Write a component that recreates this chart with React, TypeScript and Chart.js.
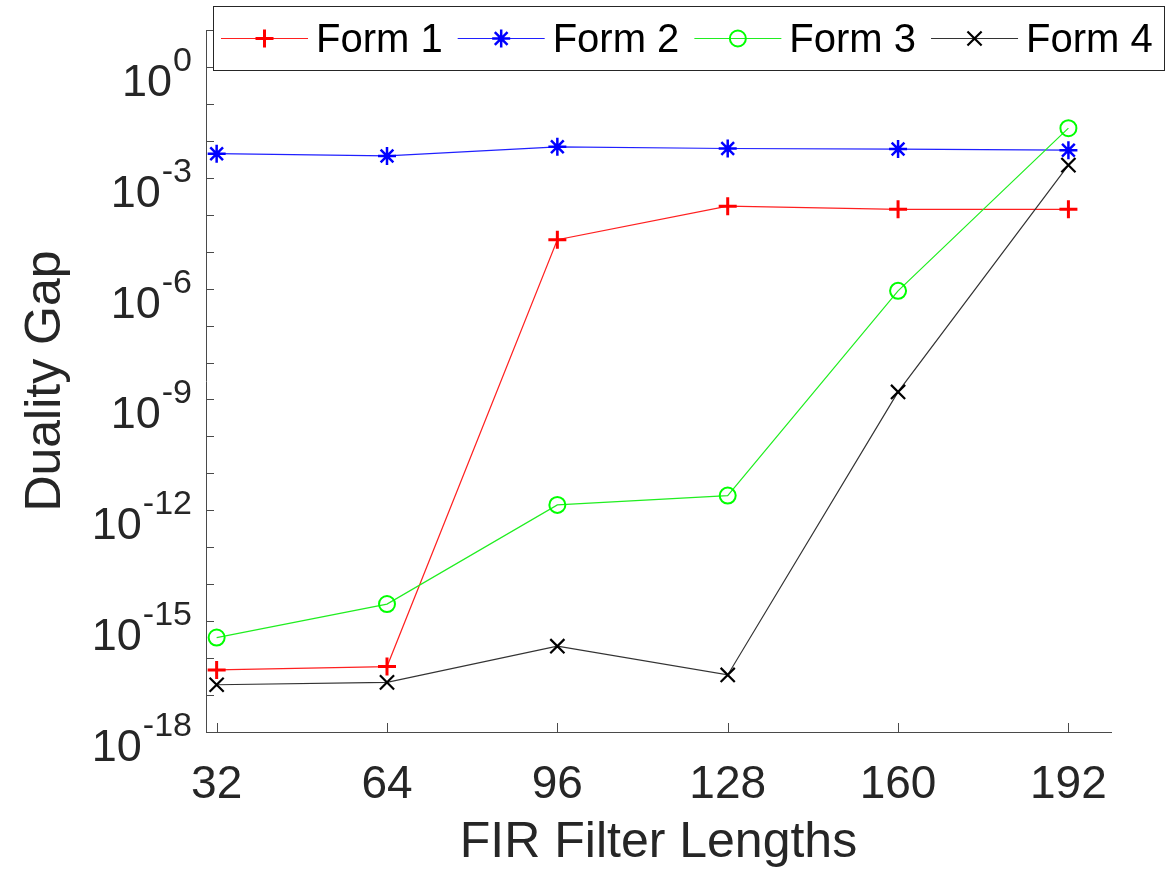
import React, { useEffect, useRef } from 'react';
import { Chart, registerables } from 'chart.js';

Chart.register(...registerables);

// ---------- data ----------
const filterLengths = [32, 64, 96, 128, 160, 192];
const form1 = [4.8e-17, 5.9e-17, 2.1e-5, 1.7e-4, 1.4e-4, 1.4e-4];
const form2 = [4.5e-3, 3.9e-3, 6.9e-3, 6.2e-3, 6.0e-3, 5.6e-3];
const form3 = [3.6e-16, 2.9e-15, 1.4e-12, 2.5e-12, 8.7e-7, 2.2e-2];
const form4 = [1.9e-17, 2.2e-17, 2.1e-16, 3.5e-17, 1.6e-9, 2.2e-3];
const seriesNames = ['Form 1', 'Form 2', 'Form 3', 'Form 4'];
const xTickValues = [32, 64, 96, 128, 160, 192];
const yLabelExponents = [0, -3, -6, -9, -12, -15, -18];
const yTickExponents = [1, 0, -1, -2, -3, -4, -5, -6, -7, -8, -9, -10, -11, -12, -13, -14, -15, -16, -17, -18];
const xTitle = 'FIR Filter Lengths';
const yTitle = 'Duality Gap';

// ---------- styles ----------
const FONT = '"Liberation Sans", Arial, Helvetica, sans-serif';
const TEXT = '#262626';
const AXIS = '#4a4a4a';
const seriesColors = ['#ff0000', '#0000ff', '#00ff00', '#000000'];
const lineColors = ['#ff2020', '#2020ff', '#20ee20', '#333333'];
const seriesPointStyles = ['cross', 'star', 'circle', 'crossRot'];
const seriesPointRadius = [9, 9, 8, 10];
const seriesPointWidth = [3, 2.5, 2, 2.2];

function drawMarker(ctx: CanvasRenderingContext2D, style: string, x: number, y: number, r: number, color: string, lw: number) {
  ctx.save();
  ctx.strokeStyle = color;
  ctx.lineWidth = lw;
  ctx.beginPath();
  const d = r * Math.SQRT1_2;
  if (style === 'cross' || style === 'star') {
    ctx.moveTo(x - r, y); ctx.lineTo(x + r, y);
    ctx.moveTo(x, y - r); ctx.lineTo(x, y + r);
  }
  if (style === 'crossRot' || style === 'star') {
    ctx.moveTo(x - d, y - d); ctx.lineTo(x + d, y + d);
    ctx.moveTo(x + d, y - d); ctx.lineTo(x - d, y + d);
  }
  if (style === 'circle') {
    ctx.arc(x, y, r, 0, Math.PI * 2);
  }
  ctx.stroke();
  ctx.restore();
}

const decorPlugin = {
  id: 'decor',
  afterDraw(chart: any) {
    const ctx: CanvasRenderingContext2D = chart.ctx;
    const xs = chart.scales.x;
    const ys = chart.scales.y;
    const area = chart.chartArea;

    // inward tick marks
    ctx.save();
    ctx.strokeStyle = AXIS;
    ctx.lineWidth = 1;
    ctx.beginPath();
    for (const e of yTickExponents) {
      const py = Math.round(ys.getPixelForValue(Math.pow(10, e))) + 0.5;
      ctx.moveTo(area.left, py);
      ctx.lineTo(area.left + 8, py);
    }
    for (const v of xTickValues) {
      const px = Math.round(xs.getPixelForValue(v)) + 0.5;
      ctx.moveTo(px, area.bottom);
      ctx.lineTo(px, area.bottom - 9);
    }
    ctx.stroke();
    ctx.restore();

    // y tick labels 10^e
    ctx.save();
    ctx.fillStyle = TEXT;
    ctx.textAlign = 'left';
    ctx.textBaseline = 'alphabetic';
    const right = area.left - 14;
    for (const e of yLabelExponents) {
      const py = ys.getPixelForValue(Math.pow(10, e));
      const expStr = e === 0 ? '0' : '-' + Math.abs(e);
      ctx.font = `34px ${FONT}`;
      const we = ctx.measureText(expStr).width;
      ctx.font = `45px ${FONT}`;
      const wb = ctx.measureText('10').width;
      ctx.fillText('10', right - we - wb - 1, py + 29);
      ctx.font = `34px ${FONT}`;
      ctx.fillText(expStr, right - we, py + 4);
    }
    ctx.restore();

    // legend
    ctx.save();
    const boxL = area.left + 7;
    const boxR = chart.width - 8;
    const boxT = 6;
    const boxB = 71;
    ctx.fillStyle = '#ffffff';
    ctx.fillRect(boxL, boxT, boxR - boxL, boxB - boxT);
    ctx.strokeStyle = '#262626';
    ctx.lineWidth = 1;
    ctx.strokeRect(boxL + 0.5, boxT + 0.5, boxR - boxL - 1, boxB - boxT - 1);
    ctx.font = `40px ${FONT}`;
    ctx.textBaseline = 'middle';
    ctx.textAlign = 'left';
    let x = boxL + 8;
    const ly = 38.5;
    chart.data.datasets.forEach((ds: any, i: number) => {
      ctx.strokeStyle = lineColors[i];
      ctx.lineWidth = 1.2;
      ctx.beginPath();
      ctx.moveTo(x, ly);
      ctx.lineTo(x + 87, ly);
      ctx.stroke();
      drawMarker(ctx, seriesPointStyles[i], x + 43.5, ly, seriesPointRadius[i], seriesColors[i], seriesPointWidth[i]);
      ctx.fillStyle = '#000000';
      ctx.fillText(ds.label, x + 95, 41);
      const tw = ctx.measureText(ds.label).width;
      x += 95 + tw + 15;
    });
    ctx.restore();
  },
};

export default function App() {
  const ref = useRef<HTMLCanvasElement | null>(null);

  useEffect(() => {
    if (!ref.current) return;
    const allSeries = [form1, form2, form3, form4];
    const datasets = allSeries.map((vals, i) => ({
      label: seriesNames[i],
      data: filterLengths.map((x, j) => ({ x, y: vals[j] })),
      borderColor: lineColors[i],
      borderWidth: 1.2,
      backgroundColor: 'rgba(0,0,0,0)',
      pointStyle: seriesPointStyles[i],
      pointRadius: seriesPointRadius[i],
      pointBorderWidth: seriesPointWidth[i],
      pointBorderColor: seriesColors[i],
      pointBackgroundColor: 'rgba(0,0,0,0)',
      tension: 0,
      fill: false,
      order: allSeries.length - i,
    }));

    const chart = new Chart(ref.current, {
      type: 'line',
      data: { datasets },
      plugins: [decorPlugin],
      options: {
        responsive: false,
        animation: false,
        devicePixelRatio: 1,
        layout: { padding: { top: 30, right: 62, left: 0, bottom: 0 } },
        plugins: { legend: { display: false }, tooltip: { enabled: false } },
        scales: {
          x: {
            type: 'linear',
            position: 'bottom',
            min: 30,
            max: 200,
            afterBuildTicks: (scale: any) => {
              scale.ticks = xTickValues.map((v) => ({ value: v }));
            },
            afterFit: (scale: any) => {
              scale.height = 141;
            },
            grid: { display: false },
            border: { display: true, color: AXIS, width: 1 },
            ticks: {
              color: TEXT,
              font: { family: FONT, size: 46 },
              padding: 18,
              maxRotation: 0,
              autoSkip: false,
              callback: (v: any) => String(v),
            },
            title: {
              display: true,
              text: xTitle,
              color: TEXT,
              font: { family: FONT, size: 50 },
              padding: { top: 0, bottom: 0 },
            },
          },
          y: {
            type: 'logarithmic',
            position: 'left',
            min: 1e-18,
            max: 10,
            afterBuildTicks: (scale: any) => {
              scale.ticks = yTickExponents.map((e) => ({ value: Math.pow(10, e) }));
            },
            afterFit: (scale: any) => {
              scale.width = 206;
            },
            grid: { display: false },
            border: { display: true, color: AXIS, width: 1 },
            ticks: { display: false },
            title: {
              display: true,
              text: yTitle,
              color: TEXT,
              font: { family: FONT, size: 50 },
              padding: { top: 16, bottom: 0 },
            },
          },
        },
      } as any,
    });
    return () => chart.destroy();
  }, []);

  return (
    <div style={{ position: 'absolute', left: 0, top: 0, width: 1173, height: 873, background: '#ffffff' }}>
      <canvas ref={ref} width={1173} height={873} style={{ display: 'block' }} />
    </div>
  );
}
